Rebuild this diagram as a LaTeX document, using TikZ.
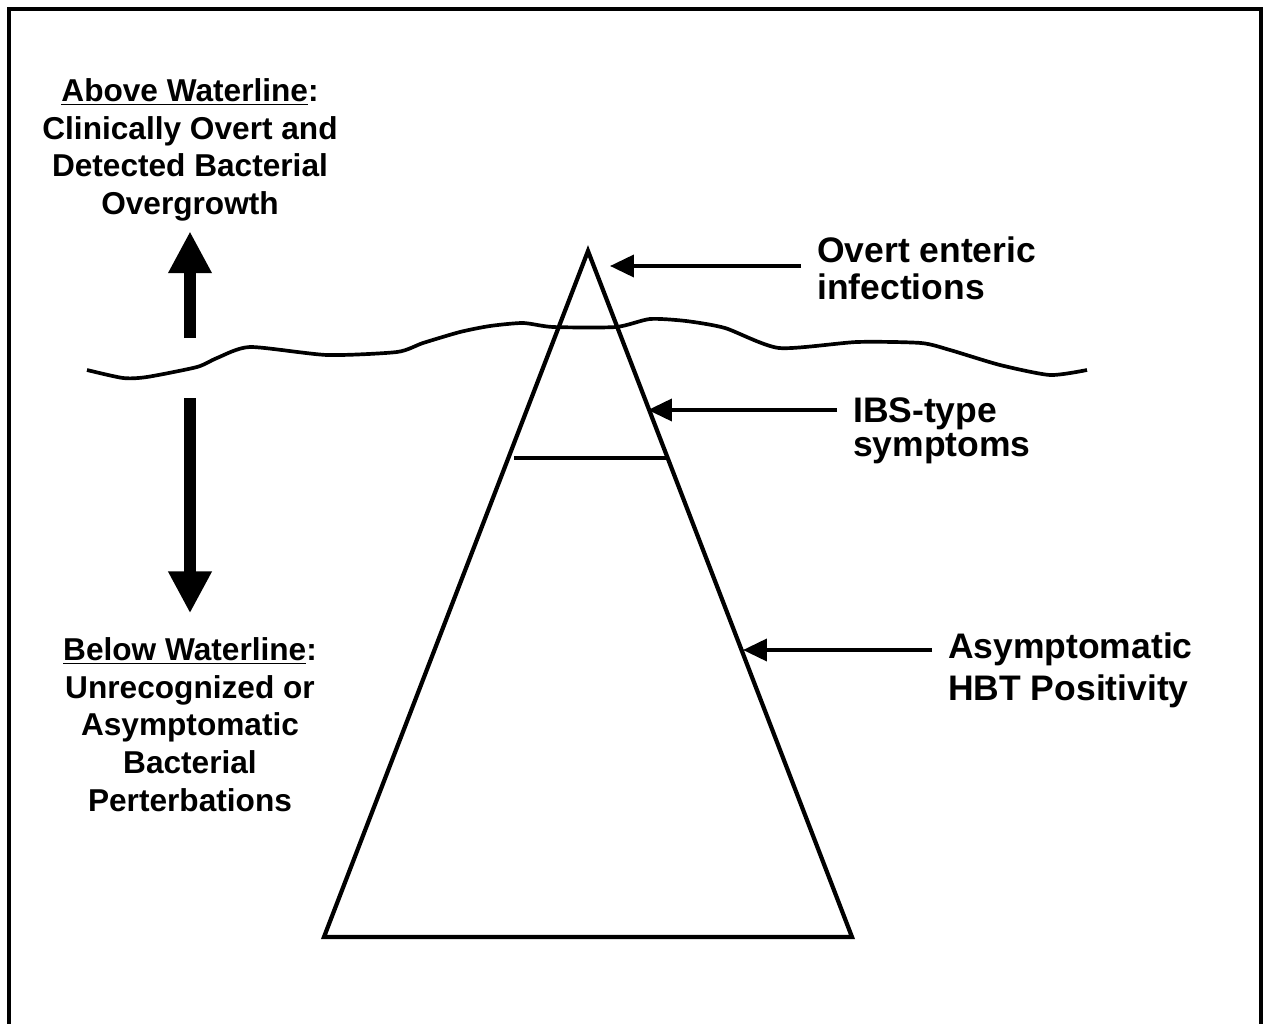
\documentclass[tikz,border=0pt]{standalone}
\usepackage{fontspec}
\setmainfont{Liberation Sans}
\usetikzlibrary{arrows.meta}

\begin{document}
\begin{tikzpicture}[x=0.02cm, y=-0.02cm,
  side/.style={align=center, font=\bfseries\fontsize{18}{21.5}\selectfont, inner sep=0pt},
  tag/.style={align=left, font=\bfseries\fontsize{20.2}{21.5}\selectfont, inner xsep=9pt, inner ysep=0pt},
  pointer/.style={-{Triangle[width=12.5pt, length=13.6pt]}, line width=2.1pt},
  bigarrow/.style={-{Triangle[width=23.2pt, length=23.8pt]}, line width=6.8pt},
  berg/.style={line width=2.4pt},
  water/.style={line width=2.1pt, line join=round}]
\useasboundingbox (0,0) rectangle (1269,1024);
\clip (0,0) rectangle (1269,1024);
\draw[line width=2.3pt] (9,9) rectangle (1261,1040);

% iceberg
\coordinate (apex) at (588,251);
\coordinate (baseL) at (324,937);
\coordinate (baseR) at (852,937);
\draw[berg] (apex) -- (baseL) -- (baseR) -- cycle;
\draw[water] (514,458) -- (667,458);

% waterline
\draw[water] plot[smooth, tension=0.4] coordinates {
  (87,370) (123,378) (147,377) (197,367) (217,358) (250,347) (327,355)
  (397,352) (423,343) (460,332) (490,326) (523,323) (553,327) (616,327)
  (650,319) (686,321) (725,328) (779,348) (857,342) (921,343) (950,350)
  (1000,365) (1050,375) (1087,370)};

% left side
\node[side, anchor=north] (above) at (190,78) {\underline{Above Waterline}:\\Clinically Overt and\\Detected Bacterial\\Overgrowth};
\node[side, anchor=north] (below) at (190,637) {\underline{Below Waterline}:\\Unrecognized or\\Asymptomatic\\Bacterial\\Perterbations};
\coordinate (upTail) at (190,338);
\coordinate (downTail) at (190,398);
\draw[bigarrow, shorten >=5.5pt] (upTail) -- (above.south);
\draw[bigarrow, shorten >=13.5pt] (downTail) -- (below.north);

% right side
\node[tag, anchor=north west] (overt) at (801,236) {Overt enteric\\infections};
\node[tag, anchor=north west, font=\bfseries\fontsize{20.2}{19.8}\selectfont] (ibs) at (837,397) {IBS-type\\symptoms};
\node[tag, anchor=north west, font=\bfseries\fontsize{20.2}{24.4}\selectfont] (asym) at (932,632) {Asymptomatic\\HBT Positivity};
\coordinate (overtTip) at (610,266);
\coordinate (ibsTip) at (648,410);
\coordinate (asymTip) at (743,650);
\draw[pointer] (overt.west |- overtTip) -- (overtTip);
\draw[pointer] (ibs.west |- ibsTip) -- (ibsTip);
\draw[pointer] (asym.west |- asymTip) -- (asymTip);
\end{tikzpicture}
\end{document}
